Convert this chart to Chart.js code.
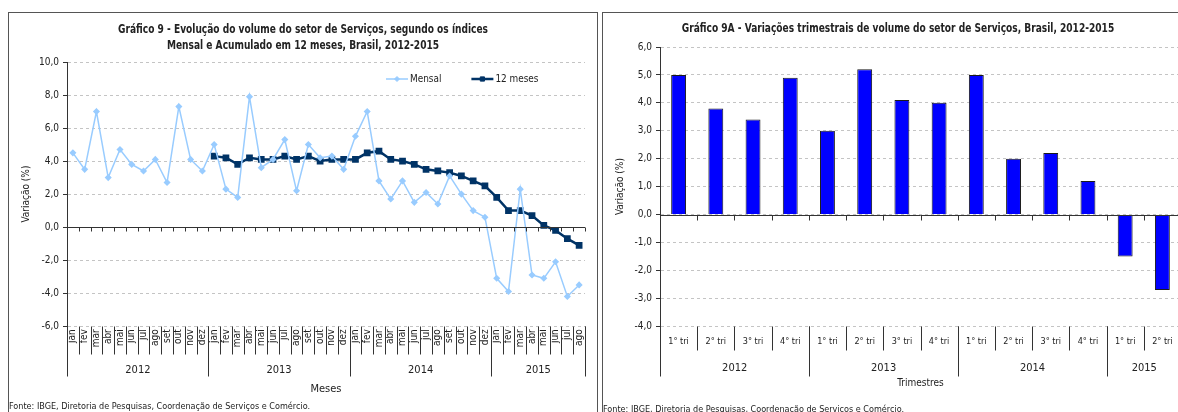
<!DOCTYPE html>
<html lang="pt-BR">
<head>
<meta charset="utf-8">
<script src="https://cdn.jsdelivr.net/npm/chart.js@4.4.1/dist/chart.umd.min.js"></script>
<style>
   html,body{margin:0;padding:0;background:#fff;overflow:hidden;}
   body{width:1178px;height:412px;position:relative;}
   .painel{position:absolute;border:1px solid #555;box-sizing:border-box;background:#fff;}
   #painel9{left:8px;top:12px;width:590px;height:420px;}
   #painel9a{left:602px;top:12px;width:600px;height:420px;}
   canvas{position:absolute;left:0;top:0;}
</style>
</head>
<body>

<div class="painel" id="painel9"><canvas id="graf9" width="588" height="400"></canvas></div>
<div class="painel" id="painel9a"><canvas id="graf9a" width="590" height="402"></canvas></div>

<script>

/* dados - grafico 9 (mensal x 12 meses) */

const meses = ["jan","fev","mar","abr","mai","jun","jul","ago","set","out","nov","dez"];
const anosMensal = ["2012","2013","2014","2015"];
const mesesPorAno = [12,12,12,8];

const mensal = [
   4.5, 3.5, 7.0, 3.0, 4.7, 3.8, 3.4, 4.1, 2.7, 7.3, 4.1, 3.4,
   5.0, 2.3, 1.8, 7.9, 3.6, 4.1, 5.3, 2.2, 5.0, 4.2, 4.3, 3.5,
   5.5, 7.0, 2.8, 1.7, 2.8, 1.5, 2.1, 1.4, 3.1, 2.0, 1.0, 0.6,
   -3.1, -3.9, 2.3, -2.9, -3.1, -2.1, -4.2, -3.5
];

const acumulado12 = [
   null, null, null, null, null, null, null, null, null, null, null, null,
   4.3, 4.2, 3.8, 4.2, 4.1, 4.1, 4.3, 4.1, 4.3, 4.0, 4.1, 4.1,
   4.1, 4.5, 4.6, 4.1, 4.0, 3.8, 3.5, 3.4, 3.3, 3.1, 2.8, 2.5,
   1.8, 1.0, 1.0, 0.7, 0.1, -0.2, -0.7, -1.1
];

const titulo9 = [
   "Gráfico 9 - Evolução do volume do setor de Serviços, segundo os índices",
   "Mensal e Acumulado em 12 meses, Brasil, 2012-2015"
];

/* dados - grafico 9A (trimestral) */

const trimestres = ["1° tri","2° tri","3° tri","4° tri"];
const anosTri = ["2012","2013","2014","2015"];
const triPorAno = [4,4,4,2];

const variacaoTri = [5.0, 3.8, 3.4, 4.9, 3.0, 5.2, 4.1, 4.0, 5.0, 2.0, 2.2, 1.2, -1.5, -2.7];

const titulo9A = [
   "Gráfico 9A - Variações trimestrais de volume do setor de Serviços, Brasil, 2012-2015"
];

const fonte = "Fonte: IBGE, Diretoria de Pesquisas, Coordenação de Serviços e Comércio.";

/* monta rotulos repetidos por ano */

function montarRotulos(base, qtds){
   let out = [];
   qtds.forEach(q => { for(let i=0;i<q;i++) out.push(base[i]); });
   return out;
}

function virgula(v){
   return v.toFixed(1).replace(".", ",");
}

const familia = "'Liberation Sans Narrow','Arial Narrow','DejaVu Sans Condensed',sans-serif";

Chart.defaults.font.family = familia;
Chart.defaults.color = "#222";
Chart.defaults.animation = false;

/* titulo estreito (arial narrow nao existe aqui) */

const tituloPlugin = {

   id: "tituloEstreito",

   afterDraw(chart, args, opts){

      const ctx = chart.ctx;
      const cx = chart.width / 2;

      ctx.save();
      ctx.font = "bold 12px " + familia;
      ctx.fillStyle = "#222";
      ctx.textAlign = "center";
      ctx.textBaseline = "middle";

      opts.linhas.forEach((txt, i) => {
         const w = ctx.measureText(txt).width * opts.aperto;
         ctx.fillText(txt, cx, opts.y + i * opts.entre, w);
      });

      ctx.restore();

   }

};

/* linha do zero, separadores do eixo e nomes dos anos */

const gruposPlugin = {

   id: "grupos",

   afterDraw(chart, args, opts){

      const ctx = chart.ctx;
      const x = chart.scales.x;
      const y = chart.scales.y;
      const area = chart.chartArea;
      const n = chart.data.labels.length;
      const passo = x.getPixelForValue(1) - x.getPixelForValue(0);

      ctx.save();
      ctx.strokeStyle = "#333";
      ctx.lineWidth = 1;

      const y0 = Math.round(y.getPixelForValue(0)) + 0.5;
      const yb = Math.round(area.bottom) + 0.5;

      ctx.beginPath();
      ctx.moveTo(area.left, y0);
      ctx.lineTo(area.right, y0);

      for(let i=0;i<=n;i++){
         const bx = Math.round(x.getPixelForValue(i) - passo/2) + 0.5;
         if(i > 0){
            ctx.moveTo(bx, y0);
            ctx.lineTo(bx, y0 + opts.marcaZero);
         }
         ctx.moveTo(bx, yb);
         ctx.lineTo(bx, yb + opts.curto);
      }

      let inicio = 0;
      ctx.font = "11px " + familia;
      ctx.fillStyle = "#222";
      ctx.textAlign = "center";
      ctx.textBaseline = "middle";

      opts.qtds.forEach((q, g) => {
         const xa = Math.round(x.getPixelForValue(inicio) - passo/2) + 0.5;
         const xb = x.getPixelForValue(inicio + q - 1) + passo/2;
         ctx.moveTo(xa, yb);
         ctx.lineTo(xa, yb + opts.longo);
         ctx.fillText(opts.nomes[g], (xa + xb)/2, area.bottom + opts.anoY);
         inicio += q;
      });

      const xf = Math.round(x.getPixelForValue(n - 1) + passo/2) + 0.5;
      ctx.moveTo(xf, yb);
      ctx.lineTo(xf, yb + opts.longo);
      ctx.stroke();

      ctx.restore();

   }

};

/* legenda dentro da area do grafico */

const legendaPlugin = {

   id: "legendaInterna",

   afterDraw(chart, args, opts){

      if(!opts.mostrar) return;

      const ctx = chart.ctx;
      const area = chart.chartArea;
      let lx = area.left + opts.x;
      const ly = area.top + opts.y;

      ctx.save();
      ctx.font = "11px " + familia;
      ctx.textBaseline = "middle";
      ctx.textAlign = "left";

      chart.data.datasets.forEach(ds => {

         ctx.strokeStyle = ds.borderColor;
         ctx.fillStyle = ds.pointBackgroundColor;
         ctx.lineWidth = ds.borderWidth;
         ctx.beginPath();
         ctx.moveTo(lx, ly);
         ctx.lineTo(lx + opts.linha, ly);
         ctx.stroke();

         ctx.lineWidth = 1;
         Chart.helpers.drawPoint(ctx, {
            pointStyle: ds.pointStyle,
            radius: ds.pointRadius,
            rotation: 0,
            borderWidth: 1
         }, lx + opts.linha/2, ly);

         ctx.fillStyle = "#222";
         const w = ctx.measureText(ds.label).width * opts.aperto;
         ctx.fillText(ds.label, lx + opts.linha + 2, ly, w);

         lx += opts.linha + 2 + w + opts.espaco;

      });

      ctx.restore();

   }

};

/* grafico 9 */

new Chart(document.getElementById("graf9"), {

   type: "line",

   data: {

      labels: montarRotulos(meses, mesesPorAno),

      datasets: [
         {
            label: "Mensal",
            data: mensal,
            borderColor: "#99CCFF",
            backgroundColor: "#99CCFF",
            pointBackgroundColor: "#99CCFF",
            pointBorderColor: "#99CCFF",
            borderWidth: 1.5,
            pointStyle: "rectRot",
            pointRadius: 2.5,
            tension: 0
         },
         {
            label: "12 meses",
            data: acumulado12,
            borderColor: "#003366",
            backgroundColor: "#003366",
            pointBackgroundColor: "#003366",
            pointBorderColor: "#003366",
            borderWidth: 2.5,
            pointStyle: "rect",
            pointRadius: 3,
            tension: 0
         }
      ]

   },

   options: {

      responsive: false,

      layout: { padding: { left: 0, right: 12, top: 49, bottom: 0 } },

      plugins: {

         legend: { display: false },
         tooltip: { enabled: false },
         title: { display: false },

         tituloEstreito: {
            linhas: titulo9,
            y: 16.5,
            entre: 16.5,
            aperto: 0.84
         },

         subtitle: {
            display: true,
            position: "bottom",
            align: "start",
            text: fonte,
            font: { size: 9, lineHeight: 1.2 },
            color: "#222",
            padding: { top: 4, bottom: 1 }
         },

         grupos: {
            qtds: mesesPorAno,
            nomes: anosMensal,
            marcaZero: 4,
            curto: 28,
            longo: 50,
            anoY: 44
         },

         legendaInterna: {
            mostrar: true,
            x: 319,
            y: 17,
            linha: 22,
            espaco: 30,
            aperto: 0.9
         }

      },

      scales: {

         x: {
            offset: true,
            grid: { display: false, drawTicks: false },
            border: { display: false },
            ticks: {
               autoSkip: false,
               minRotation: 90,
               maxRotation: 90,
               padding: 3,
               font: { size: 10 },
               color: "#222"
            },
            title: {
               display: true,
               text: "Meses",
               font: { size: 11 },
               color: "#222",
               padding: { top: 0, bottom: 1 }
            },
            afterFit(scale){ scale.height = 71; }
         },

         y: {
            min: -6,
            max: 10,
            ticks: {
               stepSize: 2,
               font: { size: 10 },
               color: "#222",
               padding: 4,
               callback: v => virgula(v)
            },
            grid: {
               color: "#c4c4c4",
               drawTicks: true,
               tickLength: 4,
               tickColor: "#333"
            },
            border: { display: true, color: "#333", width: 1, dash: [3,3] },
            title: {
               display: true,
               text: "Variação (%)",
               font: { size: 10 },
               color: "#222",
               padding: { top: 11, bottom: 0 }
            },
            afterFit(scale){ scale.width = 58; }
         }

      }

   },

   plugins: [gruposPlugin, legendaPlugin, tituloPlugin]

});

/* grafico 9A */

new Chart(document.getElementById("graf9a"), {

   type: "bar",

   data: {

      labels: montarRotulos(trimestres, triPorAno),

      datasets: [{
         label: "Variação trimestral",
         data: variacaoTri,
         backgroundColor: "#0000FF",
         borderColor: "#1a1a1a",
         borderWidth: 1,
         barPercentage: 0.4,
         categoryPercentage: 1
      }]

   },

   options: {

      responsive: false,

      layout: { padding: { left: 0, right: 12, top: 34, bottom: 0 } },

      plugins: {

         legend: { display: false },
         tooltip: { enabled: false },
         title: { display: false },

         tituloEstreito: {
            linhas: titulo9A,
            y: 16,
            entre: 16.5,
            aperto: 0.84
         },

         subtitle: {
            display: true,
            position: "bottom",
            align: "start",
            text: fonte,
            font: { size: 9, lineHeight: 1.2 },
            color: "#222",
            padding: { top: 4, bottom: 0 }
         },

         grupos: {
            qtds: triPorAno,
            nomes: anosTri,
            marcaZero: 5,
            curto: 24,
            longo: 50,
            anoY: 42
         },

         legendaInterna: { mostrar: false }

      },

      scales: {

         x: {
            grid: { display: false, drawTicks: false },
            border: { display: false },
            ticks: {
               autoSkip: false,
               maxRotation: 0,
               padding: 10,
               font: { size: 9 },
               color: "#222"
            },
            title: {
               display: true,
               text: "Trimestres",
               font: { size: 10 },
               color: "#222",
               padding: { top: 0, bottom: 11 }
            },
            afterFit(scale){ scale.height = 74; }
         },

         y: {
            min: -4,
            max: 6,
            ticks: {
               stepSize: 1,
               font: { size: 10 },
               color: "#222",
               padding: 4,
               callback: v => virgula(v)
            },
            grid: {
               color: "#c4c4c4",
               drawTicks: true,
               tickLength: 4,
               tickColor: "#333"
            },
            border: { display: true, color: "#333", width: 1, dash: [3,3] },
            title: {
               display: true,
               text: "Variação (%)",
               font: { size: 10 },
               color: "#222",
               padding: { top: 11, bottom: 0 }
            },
            afterFit(scale){ scale.width = 57; }
         }

      }

   },

   plugins: [gruposPlugin, legendaPlugin, tituloPlugin]

});

</script>
</body>
</html>
